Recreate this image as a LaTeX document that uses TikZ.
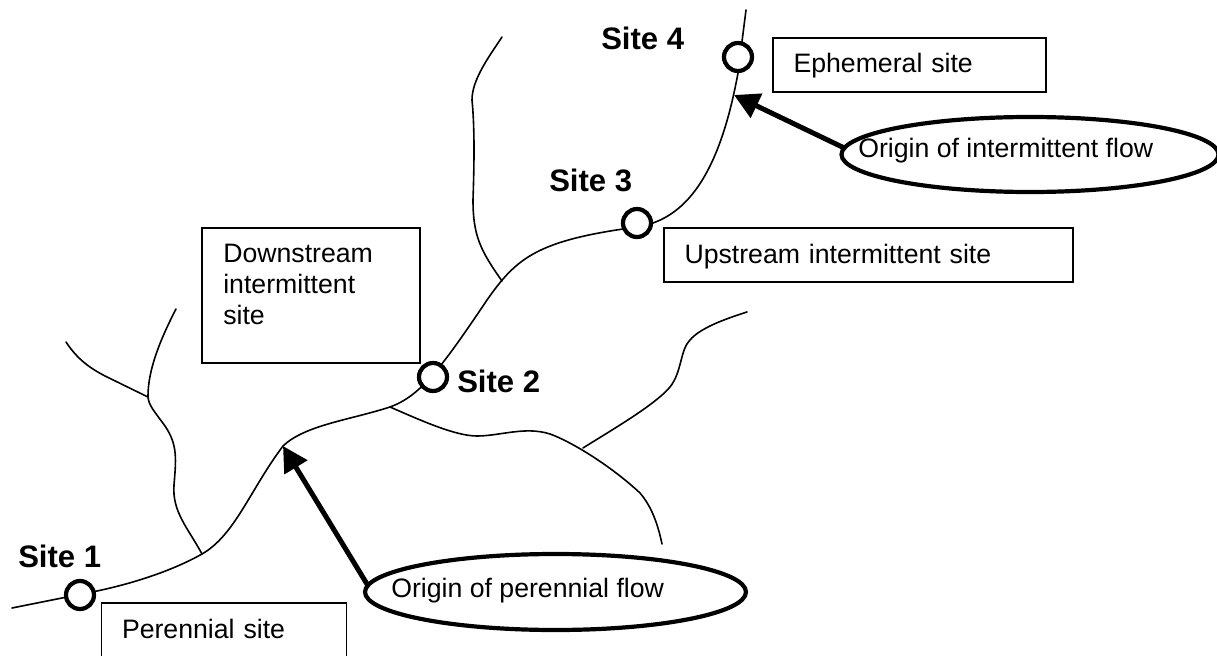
\documentclass[tikz,border=0pt]{standalone}
\usepackage{fontspec}
\setmainfont{Liberation Sans}
\usetikzlibrary{shapes.geometric,arrows.meta}
\newlength{\px}\setlength{\px}{0.75pt}
\tikzset{
  x=0.75pt,y=-0.75pt,
  stream/.style={line width=1.6\px,line cap=round,line join=round},
  sitebox/.style={draw=black,line width=1.6\px,fill=white,inner ysep=0pt,inner xsep=20.5\px,align=left,text height=15pt,text depth=3pt,font=\fontsize{20}{24}\selectfont},
  sitemark/.style={circle,draw=black,fill=white,line width=4.2\px,minimum size=28\px,inner sep=0pt,outer sep=0pt},
  sitelabel/.style={anchor=base west,inner sep=0pt,font=\fontsize{23.3}{28}\selectfont\bfseries},
  origin/.style={ellipse,draw=black,fill=white,line width=4.2\px,inner sep=0pt,outer sep=0pt},
  origintext/.style={anchor=base west,inner sep=0pt,font=\fontsize{20}{24}\selectfont},
  pointer/.style={line width=5\px,-{Triangle[length=18.75pt,width=19.5pt]},shorten >=0pt},
}
\begin{document}
\begin{tikzpicture}
\useasboundingbox (0,0) rectangle (1217,656);
\clip (0,0) rectangle (1217,656);
% boxes
\node[sitebox,text width=204\px,minimum height=54.5\px] (bper) at (224,630.3) {Perennial site};
\node[sitebox,minimum width=218\px,minimum height=135\px] (bdown) at (311,295.5) {};
\node[anchor=north west,inner sep=0pt,align=left,font=\fontsize{20}{23.25}\selectfont] (tdown) at (223,244) {Downstream\\intermittent\\site};
\node[sitebox,text width=232\px,minimum height=54.5\px] (beph) at (909.5,65) {Ephemeral site};
\node[sitebox,text width=368\px,minimum height=54.5\px] (bup) at (868.5,255) {Upstream intermittent site};
% streams
\draw[stream] (12,608) -- (97,591)
  .. controls (130,584) and (170,572) .. (202,554)
  .. controls (235,535) and (250,490) .. (283,446)
  .. controls (305,425) and (350,420) .. (390,407)
  .. controls (420,396) and (440,370) .. (487,300)
  .. controls (515,260) and (535,242) .. (623,229)
  .. controls (635,227.5) and (645,226) .. (653,223)
  .. controls (695,208) and (722,160) .. (738,73)
  -- (746,10);
\draw[stream] (202,554)
  .. controls (188,528) and (172,512) .. (174,485)
  .. controls (176,460) and (178,445) .. (165,426)
  .. controls (155,412) and (148,405) .. (148,396)
  .. controls (148,370) and (160,340) .. (176,309);
\draw[stream] (66,342) .. controls (78,360) and (90,368) .. (105,376) -- (148,397);
\draw[stream] (502,281)
  .. controls (480,250) and (473,235) .. (473,200)
  .. controls (474,170) and (475,130) .. (472,100)
  .. controls (472,80) and (488,58) .. (502,37);
\draw[stream] (390,407)
  .. controls (420,420) and (455,436) .. (477,436)
  .. controls (500,436) and (525,426) .. (550,434)
  .. controls (570,441) and (610,465) .. (640,493)
  .. controls (652,507) and (658,525) .. (662,544);
\draw[stream] (583,448)
  .. controls (610,431) and (655,405) .. (670,387)
  .. controls (682,372) and (680,350) .. (690,340)
  .. controls (700,328) and (725,319) .. (747,312);
% site markers
\node[sitemark] (s1) at (80,595) {};
\node[sitemark] (s2) at (433,377) {};
\node[sitemark] (s3) at (637,223) {};
\node[sitemark] (s4) at (738,57) {};
\node[sitelabel] (l1) at (18,567) {Site 1};
\node[sitelabel] (l2) at (457,392) {Site 2};
\node[sitelabel] (l3) at (549,191) {Site 3};
\node[sitelabel] (l4) at (601,50) {Site 4};
% origins
\node[origin,minimum width=381\px,minimum height=76\px] (eper) at (555.5,592) {};
\node[origin,minimum width=377\px,minimum height=75\px] (eint) at (1030,154.5) {};
\node[origintext] (tper) at (391,597) {Origin of perennial flow};
\node[origintext] (tint) at (858,158) {Origin of intermittent flow};
\coordinate (tipper) at (283,446);
\coordinate (tipint) at (734,95);
\draw[pointer] (eper.178) -- (tipper);
\draw[pointer] (eint.178) -- (tipint);
\end{tikzpicture}
\end{document}
